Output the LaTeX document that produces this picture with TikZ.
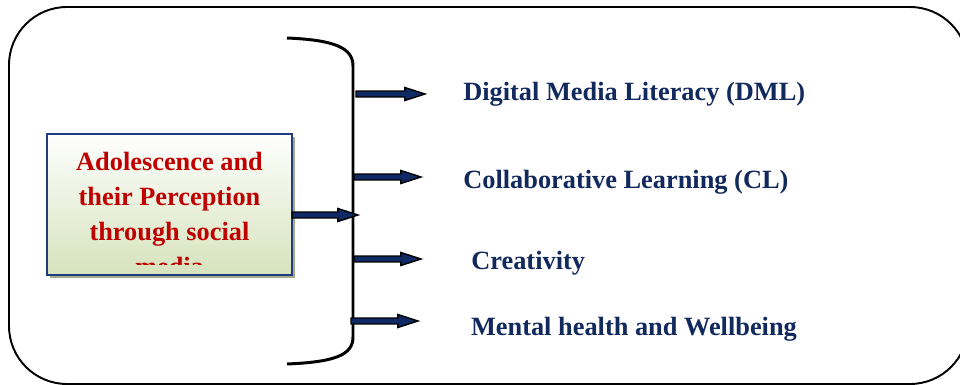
\documentclass[tikz,border=0pt]{standalone}
\usepackage{fontspec}
\setmainfont{Liberation Serif}
\usepackage{xcolor}
\usetikzlibrary{calc,shadows}
\definecolor{vnavy}{HTML}{0F2A64}
\definecolor{vtext}{HTML}{12295E}
\definecolor{vred}{HTML}{C00000}
\definecolor{vframe}{HTML}{1F3C7C}
\definecolor{vgreen}{HTML}{D6E3BC}
\definecolor{vshadow}{HTML}{A3AD89}

\tikzset{
	fatarrow/.style={draw=black, fill=vnavy, line width=0.8pt, line join=miter,
		to path={let \p1=(\tikztostart), \p2=(\tikztotarget) in
			(\x1,\y1+1.7pt) -- (\x2-11.5pt,\y1+1.7pt) -- (\x2-11.5pt,\y1+3.7pt) -- (\x2,\y1)
			-- (\x2-11.5pt,\y1-3.7pt) -- (\x2-11.5pt,\y1-1.7pt) -- (\x1,\y1-1.7pt) -- cycle}},
	srcbox/.style={draw=vframe, line width=1.1pt, top color=white, bottom color=vgreen,
		minimum width=4.9cm, minimum height=2.82cm, inner sep=0pt,
		drop shadow={fill=vshadow, opacity=1, shadow xshift=0.06cm, shadow yshift=-0.06cm}},
	srctext/.style={inner sep=0pt, align=center, text=vred, font=\bfseries\fontsize{15}{19.8}\selectfont},
	outcome/.style={anchor=base west, inner sep=0pt, text=vtext, font=\bfseries\fontsize{15}{18}\selectfont}
}

\begin{document}
\begin{tikzpicture}[x=0.02cm, y=-0.02cm]
		\useasboundingbox (0,0) rectangle (960,385);
		% outer frame
		\draw[line width=1.1pt, rounded corners=1.16cm] (9,7) rectangle (968,384);
		% source box, its text cut off at the bottom
		\node[srcbox] (src) at (169.5,204.5) {};
		\begin{scope}
			\clip (src.north west) rectangle ($(src.south east)+(0,-11)$);
			\node[srctext, anchor=north] (srclabel) at (169.5,152) {Adolescence and\\their Perception\\through social\\media};
		\end{scope}
		% bracket
		\draw[line width=1.7pt] (287,38) .. controls (335,40) and (353,48) .. (353,66) -- (353,337) .. controls (353,355) and (335,362) .. (287,364);
		% outcomes
		\node[outcome] (dml) at (463,100.7) {Digital Media Literacy (DML)};
		\node[outcome] (cl) at (463,188.3) {Collaborative Learning (CL)};
		\node[outcome] (cre) at (471,269) {Creativity};
		\node[outcome] (mhw) at (470.7,335) {Mental health and Wellbeing};
		\coordinate (m0) at (292,215);
		\coordinate (m1) at (358,215);
		\coordinate (b1) at (356,94);
		\coordinate (b2) at (354,177);
		\coordinate (b3) at (354,259);
		\coordinate (b4) at (351,321);
		\coordinate (t1) at (425,94);
		\coordinate (t2) at (421,177);
		\coordinate (t3) at (421,259);
		\coordinate (t4) at (418,321);
		\draw[fatarrow] (m0) to (m1);
		\draw[fatarrow] (b1) to (t1);
		\draw[fatarrow] (b2) to (t2);
		\draw[fatarrow] (b3) to (t3);
		\draw[fatarrow] (b4) to (t4);
	\end{tikzpicture}
\end{document}
